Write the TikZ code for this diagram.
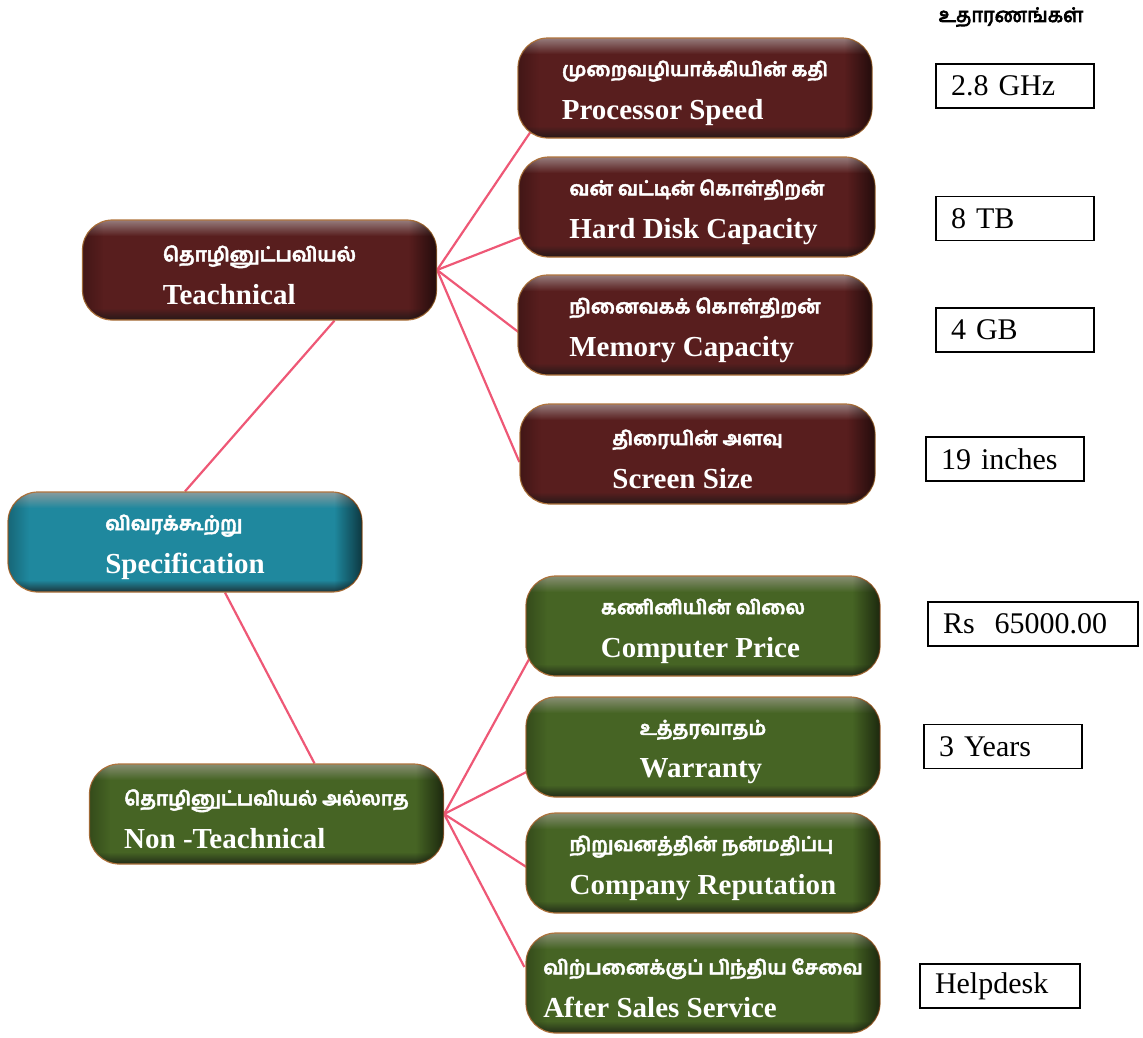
\documentclass[tikz,border=0pt]{standalone}
\usepackage{fontspec}
\setmainfont{Liberation Serif}
\newfontfamily\tamilfont[Script=Tamil, FakeBold=2.2]{Hind Madurai}
\newfontfamily\tamilheavy[Script=Tamil, FakeBold=4]{Hind Madurai}
\usetikzlibrary{backgrounds,calc,fadings}

% palette
\definecolor{mrbase}{RGB}{88,30,30}
\definecolor{mrlight}{RGB}{150,124,124}
\definecolor{mrdark}{RGB}{38,24,24}
\definecolor{tlbase}{RGB}{31,136,158}
\definecolor{tllight}{RGB}{135,155,158}
\definecolor{tldark}{RGB}{28,52,58}
\definecolor{grbase}{RGB}{70,100,36}
\definecolor{grlight}{RGB}{135,142,115}
\definecolor{grdark}{RGB}{34,44,24}
\definecolor{rimcol}{RGB}{175,115,60}
\definecolor{linkcol}{RGB}{238,88,118}

% bevel shadings: light top band, flat body, dark bottom band
\pgfdeclareverticalshading{maroonsh}{100bp}{color(0bp)=(mrdark); color(25bp)=(mrdark); color(31bp)=(mrbase); color(67bp)=(mrbase); color(75bp)=(mrlight); color(100bp)=(mrlight)}
\pgfdeclareverticalshading{tealsh}{100bp}{color(0bp)=(tldark); color(25bp)=(tldark); color(31bp)=(tlbase); color(67bp)=(tlbase); color(75bp)=(tllight); color(100bp)=(tllight)}
\pgfdeclareverticalshading{greensh}{100bp}{color(0bp)=(grdark); color(25bp)=(grdark); color(31bp)=(grbase); color(67bp)=(grbase); color(75bp)=(grlight); color(100bp)=(grlight)}

% darkening mask for the left and right rims of a box
\pgfdeclarehorizontalshading{rimmask}{100bp}{color(0bp)=(white!25!black); color(25bp)=(white!25!black); color(28bp)=(black); color(71bp)=(black); color(75bp)=(white!60!black); color(100bp)=(white!60!black)}
\pgfdeclarefading{rimfade}{\pgfuseshading{rimmask}}

\newcommand\tamline[1]{{\tamilfont\fontsize{19.5}{43}\selectfont #1}}

\tikzset{
  boxbase/.style={rounded corners=30pt, minimum width=354pt, minimum height=100pt,
    draw=rimcol, line width=1.2pt, shade,
    postaction={fill=black, path fading=rimfade, fit fading=true}},
  mrbox/.style={boxbase, shading=maroonsh},
  tealbox/.style={boxbase, shading=tealsh},
  grbox/.style={boxbase, shading=greensh},
  boxtext/.style={text=white, align=left, inner sep=0pt,
    font=\bfseries\fontsize{29}{43}\selectfont},
  exbox/.style={draw, line width=1.5pt, minimum height=44pt, inner xsep=15pt,
    align=left, text width=128pt, font=\fontsize{30}{36}\selectfont},
  link/.style={draw=linkcol, line width=2.2pt}
}

% a bevelled box (#1 style, #2 name, #3 centre) carrying a Tamil and an English line
\newcommand\factor[5]{%
  \node[#1] (#2) at (#3) {};
  \node[boxtext] (#2-text) at ($(#2.center)+(0,5)$) {\tamline{#4}\\#5};
}

\begin{document}
\begin{tikzpicture}[x=1pt, y=-1pt]
\useasboundingbox (0,0) rectangle (1143,1037);

% root and the two categories
\factor{tealbox}{spec}{185,542}{விவரக்கூற்று}{Specification}
\factor{mrbox}{tech}{259.5,270}{தொழினுட்பவியல்}{Teachnical}
\factor{grbox}{nontech}{266.5,814}{தொழினுட்பவியல் அல்லாத}{Non -Teachnical}

% technical factors
\factor{mrbox}{proc}{695,88}{முறைவழியாக்கியின் கதி}{Processor Speed}
\factor{mrbox, minimum width=356pt}{disk}{697,207}{வன் வட்டின் கொள்திறன்}{Hard Disk Capacity}
\factor{mrbox}{mem}{695,325}{நினைவகக் கொள்திறன்}{Memory Capacity}
\factor{mrbox, minimum width=355pt}{screen}{697.5,454}{திரையின் அளவு}{Screen Size}

% non-technical factors
\factor{grbox}{price}{703,626}{கணினியின் விலை}{Computer Price}
\factor{grbox}{warr}{703,747}{உத்தரவாதம்}{Warranty}
\factor{grbox}{rep}{703,863}{நிறுவனத்தின் நன்மதிப்பு}{Company Reputation}
\factor{grbox}{after}{703,983}{விற்பனைக்குப் பிந்திய சேவை}{After Sales Service}

% examples column
\node[font=\tamilheavy\fontsize{20}{24}\selectfont] (title) at (1011,17) {உதாரணங்கள்};
\node[exbox] (ex1) at (1015,86) {2.8 GHz};
\node[exbox] (ex2) at (1015,218.5) {8 TB};
\node[exbox] (ex3) at (1015,330) {4 GB};
\node[exbox] (ex4) at (1005,459) {19 inches};
\node[exbox, text width=180pt] (ex5) at (1033,624) {Rs\ \ 65000.00};
\node[exbox] (ex6) at (1003,746.5) {3 Years};
\node[exbox, text width=130pt] (ex7) at (1000,986) {Helpdesk};

% connectors, behind the boxes
\begin{pgfonlayer}{background}
\draw[link] (spec.north) -- ($(tech.south)+(75,0)$);
\draw[link] ($(spec.south)+(40,0)$) -- ($(nontech.north)+(48,0)$);
\draw[link] (tech.east) -- ($(proc.south west)+(14,-8)$);
\draw[link] (tech.east) -- ($(disk.west)+(3,30)$);
\draw[link] (tech.east) -- ($(mem.west)+(1,7)$);
\draw[link] (tech.east) -- ($(screen.west)+(0,8)$);
\draw[link] (nontech.east) -- ($(price.south west)+(4,-18)$);
\draw[link] (nontech.east) -- ($(warr.west)+(1,25)$);
\draw[link] (nontech.east) -- ($(rep.west)+(1,4)$);
\draw[link] (nontech.east) -- ($(after.west)+(-1,-16)$);
\end{pgfonlayer}
\end{tikzpicture}
\end{document}
